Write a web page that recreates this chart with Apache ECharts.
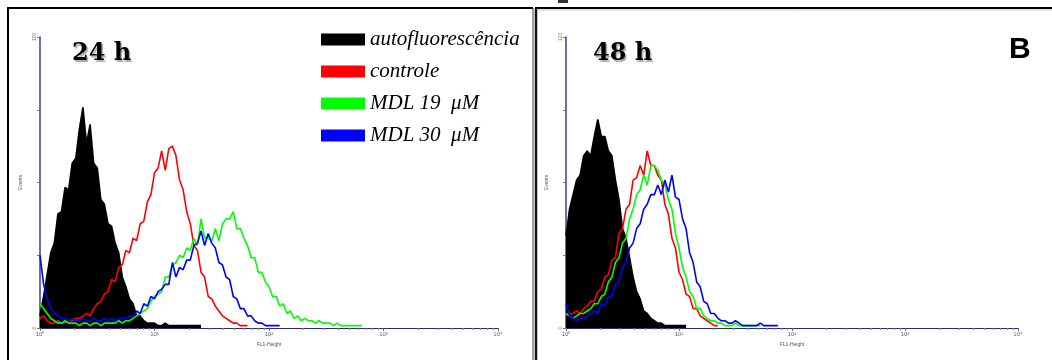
<!DOCTYPE html>
<html>
<head>
<meta charset="utf-8">
<script src="https://cdn.jsdelivr.net/npm/echarts@6/dist/echarts.min.js"></script>
<style>html,body{margin:0;padding:0;background:#fff}#c{width:1052px;height:360px}</style>
</head>
<body>
<div id="c"></div>
<script>
// Histogram bins: 32 bins per decade on FL1 (bin 0 = 10^0 ... bin 128 = 10^4)
const seriesNames = ['autofluorescência', 'controle', 'MDL 19  μM', 'MDL 30  μM'];
const seriesColors = ['#000000', '#ff0000', '#00ff00', '#0000ff'];
const panelTitles = ['24 h', '48 h'];
const xTickLabels = ['10⁰', '10¹', '10²', '10³', '10⁴'];
const yTickLabels = ['0', '120'];

// 24 h
const auto24 = [5, 13, 22, 31, 35, 47, 48, 58, 57, 68, 70, 82, 91, 76, 84, 68, 66, 53, 51, 43, 42, 35, 31, 21, 17, 12, 10, 5, 5, 3, 2, 2, 2, 1, 1, 2, 1, 1, 1, 1, 1, 1, 1, 1, 1, 1];
const ctrl24 = [4, 5, 3, 2, 2, 3, 2, 2, 3, 3, 4, 4, 5, 6, 5, 8, 10, 11, 14, 15, 20, 19, 25, 26, 32, 31, 37, 36, 43, 44, 52, 55, 64, 66, 73, 65, 74, 75, 71, 61, 57, 48, 43, 34, 32, 23, 21, 13, 12, 9, 7, 5, 4, 3, 2, 2, 1, 1, 1];
const mdl19_24 = [10, 8, 6, 4, 3, 2, 2, 3, 2, 2, 2, 1, 2, 2, 1, 2, 2, 1, 2, 2, 2, 2, 3, 2, 3, 3, 4, 5, 6, 7,
  8, 11, 13, 14, 15, 21, 21, 26, 27, 30, 29, 33, 32, 37, 34, 45, 37, 37, 36, 41, 36, 43, 45, 45, 48, 41, 41, 37, 34, 29,
  29, 23, 23, 19, 17, 13, 13, 9, 10, 6, 7, 4, 5, 3, 4, 3, 3, 2, 3, 2, 2, 2, 1, 2, 1, 1, 1, 1, 1, 1, 1];
const mdl30_24 = [30, 18, 12, 8, 6, 5, 4, 4, 3, 4, 3, 3, 4, 3, 3, 4, 3, 3, 4, 3, 4, 3, 4, 4, 4, 5,
  5, 7, 6, 10, 9, 13, 12, 15, 16, 18, 18, 27, 21, 25, 24, 28, 28, 34, 35, 40, 34, 39, 35, 33, 27, 26, 21, 20, 13, 12,
  8, 8, 5, 5, 3, 2, 2, 1, 1, 1, 1, 1];

// 48 h
const auto48 = [38, 49, 55, 61, 63, 71, 73, 71, 79, 86, 79, 79, 73, 71, 61, 53, 41, 37, 29, 21, 15, 12, 7, 6, 4, 3, 2, 2, 1, 1, 1, 1, 1, 1, 1];
const ctrl48 = [5, 6, 6, 7, 6, 8, 9, 11, 11, 15, 16, 21, 22, 28, 29, 39, 41, 49, 51, 61, 62, 67, 63, 73, 67, 67, 63, 61, 51, 47, 37, 33, 23, 20, 14, 13, 8, 8, 5, 4, 3, 2, 1, 1];
const mdl19_48 = [6, 5, 4, 5, 6, 6, 7, 8, 10, 10, 13, 14, 19, 21, 27, 29, 35, 37, 45, 49, 55, 57, 63, 59, 67, 67, 65, 61, 59, 53, 49, 39, 33, 25, 21, 15, 13, 8, 8, 5, 4, 3, 3, 2, 2, 1, 1, 1, 2, 1, 1, 1, 1, 1, 1, 1];
const mdl30_48 = [10, 5, 4, 3, 4, 4, 5, 6, 7, 6, 10, 9, 13, 13, 18, 19, 25, 27, 33, 35, 41, 43, 49, 51, 55, 55, 59, 55, 61, 56, 63, 54, 53, 45, 41, 31, 27, 19, 17, 11, 10, 6, 6, 4, 3, 3, 2, 2, 3, 2, 1, 1, 1, 1, 1, 2, 1, 1, 1, 1, 1];

const panels = [
  [auto24, ctrl24, mdl19_24, mdl30_24],
  [auto48, ctrl48, mdl19_48, mdl30_48]
];

const BINS_PER_DECADE = 32;
const majorTicks = [0, 1, 2, 3, 4].map(d => d * BINS_PER_DECADE);
const minorTicks = [];
for (let d = 0; d < 4; d++) for (let k = 2; k <= 9; k++) minorTicks.push(BINS_PER_DECADE * (d + Math.log10(k)));

const grids = [
  { left: 40, top: 37, width: 458, height: 291 },
  { left: 566, top: 37, width: 452, height: 291 }
];

const xAxes = [], yAxes = [], series = [];
grids.forEach((g, gi) => {
  xAxes.push({
    type: 'value', gridIndex: gi, min: 0, max: 128,
    name: 'FL1-Height', nameLocation: 'middle', nameGap: 11,
    nameTextStyle: { fontSize: 5, color: '#555', fontFamily: 'Liberation Sans' },
    axisLine: { show: true, lineStyle: { color: '#2a2a70', width: 1 } },
    axisTick: { show: true, customValues: majorTicks, length: 3, lineStyle: { color: '#666' } },
    axisLabel: { show: true, customValues: majorTicks, fontSize: 6, color: '#666', margin: 3,
      fontFamily: 'Liberation Sans',
      formatter: v => xTickLabels[Math.round(v / BINS_PER_DECADE)] },
    splitLine: { show: false }
  });
  xAxes.push({
    type: 'value', gridIndex: gi, min: 0, max: 128, position: 'bottom',
    axisLine: { show: false },
    axisTick: { show: true, customValues: minorTicks, length: 2, lineStyle: { color: '#888' } },
    axisLabel: { show: false }, splitLine: { show: false }
  });
  yAxes.push({
    type: 'value', gridIndex: gi, min: 0, max: 120, interval: 30,
    name: 'Events', nameLocation: 'middle', nameGap: 17,
    nameTextStyle: { fontSize: 5, color: '#555', fontFamily: 'Liberation Sans' },
    axisLine: { show: true, lineStyle: { color: '#3a3aa0', width: 1.5 } },
    axisTick: { show: true, length: 3, lineStyle: { color: '#777' } },
    axisLabel: { show: true, fontSize: 5, color: '#777', rotate: 90, margin: 3,
      fontFamily: 'Liberation Sans',
      formatter: v => (v === 0 ? yTickLabels[0] : (v === 120 ? yTickLabels[1] : '')) },
    splitLine: { show: false }
  });
  panels[gi].forEach((arr, si) => {
    const s = {
      name: seriesNames[si], type: 'line', xAxisIndex: gi * 2, yAxisIndex: gi,
      data: arr.map((v, i) => [i, v]),
      showSymbol: false, symbol: 'none', smooth: false,
      color: seriesColors[si],
      lineStyle: { color: seriesColors[si], width: 1.6 },
      itemStyle: { color: seriesColors[si] },
      z: 2 + si, animation: false
    };
    if (si === 0) s.areaStyle = { color: '#000', opacity: 1 };
    series.push(s);
  });
});

const chart = echarts.init(document.getElementById('c'), null, { renderer: 'canvas' });
chart.setOption({
  animation: false,
  backgroundColor: '#fff',
  grid: grids,
  xAxis: xAxes,
  yAxis: yAxes,
  series: series,
  title: [
    { text: panelTitles[0], left: 67, top: 37,
      textStyle: { fontFamily: 'DejaVu Serif', fontWeight: 'bold', fontSize: 24, color: '#000',
        textShadowColor: '#aaa', textShadowOffsetX: 1.5, textShadowOffsetY: 1.5, textShadowBlur: 1 } },
    { text: panelTitles[1], left: 588, top: 37,
      textStyle: { fontFamily: 'DejaVu Serif', fontWeight: 'bold', fontSize: 24, color: '#000',
        textShadowColor: '#aaa', textShadowOffsetX: 1.5, textShadowOffsetY: 1.5, textShadowBlur: 1 } },
    { text: 'B', left: 1004, top: 30,
      textStyle: { fontFamily: 'Liberation Sans', fontWeight: 'bold', fontSize: 30, color: '#000' } }
  ],
  legend: {
    data: seriesNames, orient: 'vertical', left: 316, top: 23,
    icon: 'rect', itemWidth: 44, itemHeight: 12, itemGap: 9,
    textStyle: { fontFamily: 'Liberation Serif', fontStyle: 'italic', fontSize: 21, color: '#000', lineHeight: 23 },
    selectedMode: false
  },
  graphic: [
    { type: 'line', shape: { x1: 7, y1: 8, x2: 533, y2: 8 }, style: { stroke: '#000', lineWidth: 2 } },
    { type: 'line', shape: { x1: 8, y1: 7, x2: 8, y2: 360 }, style: { stroke: '#000', lineWidth: 2 } },
    { type: 'line', shape: { x1: 533, y1: 8, x2: 533, y2: 360 }, style: { stroke: '#444', lineWidth: 1 } },
    { type: 'line', shape: { x1: 536, y1: 8, x2: 536, y2: 360 }, style: { stroke: '#111', lineWidth: 2.5 } },
    { type: 'line', shape: { x1: 535, y1: 8, x2: 1052, y2: 8 }, style: { stroke: '#000', lineWidth: 2 } },
    { type: 'line', shape: { x1: 537, y1: 10, x2: 1052, y2: 10 }, style: { stroke: '#ccc', lineWidth: 1 } },
    { type: 'rect', shape: { x: 558, y: 0, width: 10, height: 3 }, style: { fill: '#333' } }
  ]
});
</script>
</body>
</html>
